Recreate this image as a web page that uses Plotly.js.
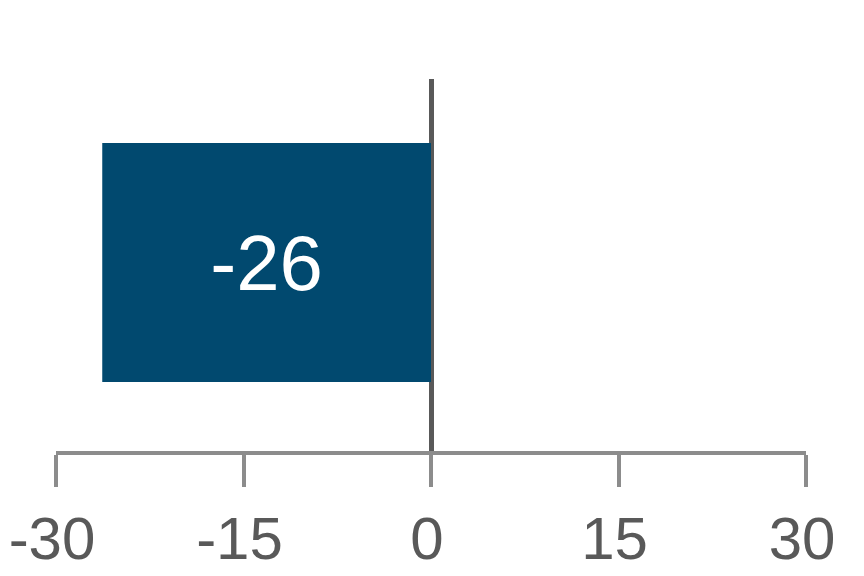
<!DOCTYPE html>
<html>
<head>
<meta charset="utf-8">
<script src="https://cdn.plot.ly/plotly-3.0.1.min.js"></script>
<style>
  html, body { margin: 0; padding: 0; background: #fff; }
  #chart { width: 864px; height: 576px; }
</style>
</head>
<body>
<div id="chart"></div>
<script>
// single bar, diverging axis

var categories = ["Total"];
var values = [-26.3];
var tickVals = [-30, -15, 0, 15, 30];
var tickText = ["-30", "-15", "0", "15", "30"];

var trace = {
  type: "bar",
  orientation: "h",
  y: categories,
  x: values,
  marker: {color: "#01496f"},
  text: values.map(function(v) { return Math.round(v).toString(); }),
  textposition: "inside",
  insidetextanchor: "middle",
  textfont: {family: "Liberation Sans, Arial, sans-serif", size: 78, color: "#ffffff"},
  hoverinfo: "none",
  cliponaxis: false,
};

var layout = {
  width: 864,
  height: 576,
  margin: {l: 56, r: 58, t: 79, b: 125},
  paper_bgcolor: "#ffffff",
  plot_bgcolor: "#ffffff",
  showlegend: false,
  bargap: 0.3575,
  font: {family: "Liberation Sans, Arial, sans-serif", color: "#595959"},
  xaxis: {
    range: [-30, 30],
    tickvals: tickVals,
    ticktext: tickText,
    showgrid: false,
    zeroline: true,
    zerolinecolor: "#595959",
    zerolinewidth: 5,
    showline: true,
    linecolor: "#8c8c8c",
    linewidth: 4,
    ticks: "outside",
    ticklen: 32,
    tickwidth: 4,
    tickcolor: "#8c8c8c",
    tickfont: {size: 60, color: "#595959"},
    ticklabelstandoff: 0,
    ticklabelshift: -4,
    fixedrange: true,
  },
  yaxis: {
    range: [-0.5067, 0.4933],
    showticklabels: false,
    showgrid: false,
    zeroline: false,
    showline: false,
    ticks: "",
    fixedrange: true,
  },
};

Plotly.newPlot("chart", [trace], layout, {displayModeBar: false, staticPlot: true});
</script>
</body>
</html>
